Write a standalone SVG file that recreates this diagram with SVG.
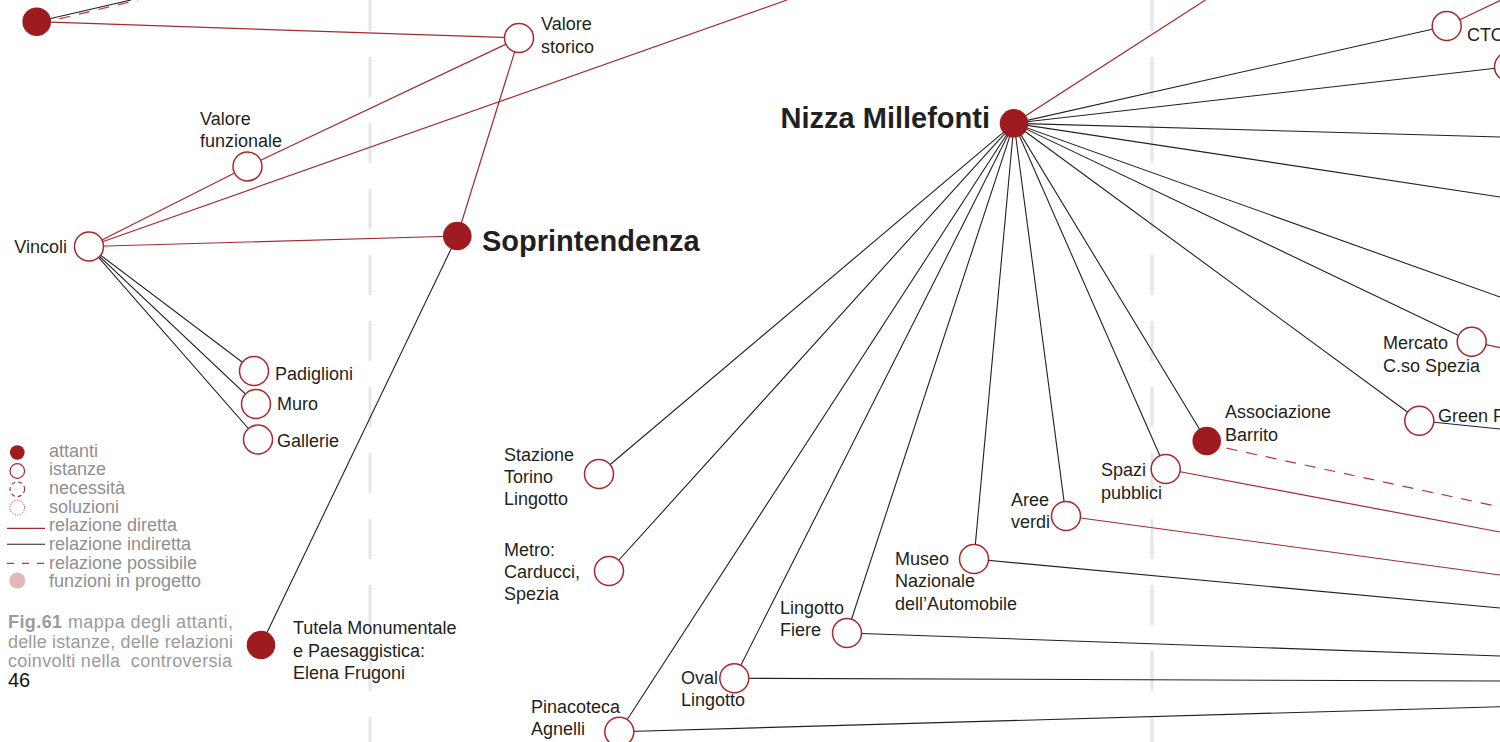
<svg xmlns="http://www.w3.org/2000/svg" width="1500" height="742" viewBox="0 0 1500 742">
<style>
.bg{fill:#ffffff}
.guide{stroke:#e6e6e6;stroke-width:3;stroke-dasharray:40 26;stroke-dashoffset:9;fill:none}
.red{stroke:#a52a2e;stroke-width:1.2;fill:none}
.blk{stroke:#231f20;stroke-width:1.1;fill:none}
.dash{stroke:#b8333a;stroke-width:1.2;fill:none;stroke-dasharray:11 9}
.att{fill:#9e1b20}
.ist{fill:#ffffff;stroke:#a8282d;stroke-width:1.5}
.lbl{font-family:"Liberation Sans",Arial,Helvetica,sans-serif;font-size:18px;fill:#231f20}
.big{font-family:"Liberation Sans",Arial,Helvetica,sans-serif;font-size:29px;font-weight:bold;fill:#231f20}
.leg{font-family:"Liberation Sans",Arial,Helvetica,sans-serif;font-size:18px;fill:#8f8f8f}
.cap{font-family:"Liberation Sans",Arial,Helvetica,sans-serif;font-size:18px;fill:#9b9b9b;white-space:pre}
</style>
<rect class="bg" x="0" y="0" width="1500" height="742"/>
<g id="guides">
<line class="guide" x1="370" y1="0" x2="370" y2="742"/>
<line class="guide" x1="1152" y1="0" x2="1152" y2="742"/>
</g>
<g id="connectors">
<line class="red" x1="36.7" y1="21.7" x2="519" y2="38"/>
<line class="blk" x1="36.7" y1="21.7" x2="131" y2="0"/>
<line class="dash" x1="40" y1="23.5" x2="138" y2="0"/>
<line class="red" x1="247.5" y1="166.5" x2="519" y2="38"/>
<line class="red" x1="89" y1="246.5" x2="247.5" y2="166.5"/>
<line class="red" x1="89" y1="246.5" x2="787" y2="0"/>
<line class="red" x1="89" y1="246.5" x2="457.3" y2="236"/>
<line class="red" x1="519" y1="38" x2="457.3" y2="236"/>
<line class="blk" x1="89" y1="246.5" x2="254" y2="371"/>
<line class="blk" x1="89" y1="246.5" x2="256" y2="404"/>
<line class="blk" x1="89" y1="246.5" x2="258" y2="439.5"/>
<line class="blk" x1="457.3" y1="236" x2="261" y2="645"/>
<line class="red" x1="1014" y1="123.3" x2="1205.5" y2="0"/>
<line class="blk" x1="1014" y1="123.3" x2="1446.7" y2="26"/>
<line class="blk" x1="1014" y1="123.3" x2="1509" y2="66.7"/>
<line class="blk" x1="1014" y1="123.3" x2="1500" y2="137"/>
<line class="blk" x1="1014" y1="123.3" x2="1500" y2="197"/>
<line class="blk" x1="1014" y1="123.3" x2="1500" y2="297"/>
<line class="blk" x1="1014" y1="123.3" x2="1471.7" y2="341.7"/>
<line class="blk" x1="1014" y1="123.3" x2="1419.3" y2="420.7"/>
<line class="blk" x1="1014" y1="123.3" x2="1206.7" y2="441"/>
<line class="blk" x1="1014" y1="123.3" x2="1165.7" y2="469"/>
<line class="blk" x1="1014" y1="123.3" x2="1066" y2="516"/>
<line class="blk" x1="1014" y1="123.3" x2="974" y2="559"/>
<line class="blk" x1="1014" y1="123.3" x2="847" y2="633"/>
<line class="blk" x1="1014" y1="123.3" x2="734.3" y2="678.3"/>
<line class="blk" x1="1014" y1="123.3" x2="619.3" y2="731.7"/>
<line class="blk" x1="1014" y1="123.3" x2="609" y2="571"/>
<line class="blk" x1="1014" y1="123.3" x2="599" y2="474"/>
<line class="red" x1="1446.7" y1="26" x2="1501" y2="0"/>
<line class="red" x1="1471.7" y1="341.7" x2="1500" y2="347.6"/>
<line class="blk" x1="1419.3" y1="420.7" x2="1500" y2="429"/>
<line class="dash" x1="1207" y1="444" x2="1500" y2="507"/>
<line class="red" x1="1165.7" y1="469" x2="1500" y2="532"/>
<line class="red" x1="1066" y1="516" x2="1500" y2="575"/>
<line class="blk" x1="974" y1="559" x2="1500" y2="608"/>
<line class="blk" x1="847" y1="633" x2="1500" y2="656"/>
<line class="blk" x1="734.3" y1="678.3" x2="1500" y2="681"/>
<line class="blk" x1="619.3" y1="731.7" x2="1500" y2="706.7"/>
</g>
<g id="node-top-left"><circle class="att" cx="36.7" cy="21.7" r="14.3"/></g>
<g id="node-valore-storico"><circle class="ist" cx="519" cy="38" r="14.5"/><text class="lbl" x="541" y="30">Valore</text><text class="lbl" x="541" y="53">storico</text></g>
<g id="node-valore-funzionale"><circle class="ist" cx="247.5" cy="166.5" r="14.5"/><text class="lbl" x="200" y="125">Valore</text><text class="lbl" x="200" y="147">funzionale</text></g>
<g id="node-vincoli"><circle class="ist" cx="89" cy="246.5" r="14.5"/><text class="lbl" x="67" y="253" text-anchor="end">Vincoli</text></g>
<g id="node-padiglioni"><circle class="ist" cx="254" cy="371" r="14.5"/><text class="lbl" x="275" y="380">Padiglioni</text></g>
<g id="node-muro"><circle class="ist" cx="256" cy="404" r="14.5"/><text class="lbl" x="277" y="410">Muro</text></g>
<g id="node-gallerie"><circle class="ist" cx="258" cy="439.5" r="14.5"/><text class="lbl" x="277" y="446.5">Gallerie</text></g>
<g id="node-soprintendenza"><circle class="att" cx="457.3" cy="236" r="14.3"/><text class="big" x="482" y="251">Soprintendenza</text></g>
<g id="node-tutela"><circle class="att" cx="261" cy="645" r="14.3"/><text class="lbl" x="293" y="634">Tutela Monumentale</text><text class="lbl" x="293" y="657">e Paesaggistica:</text><text class="lbl" x="293" y="679">Elena Frugoni</text></g>
<g id="node-nizza"><circle class="att" cx="1014" cy="123.3" r="14.3"/><text class="big" x="990" y="128" text-anchor="end">Nizza Millefonti</text></g>
<g id="node-stazione"><circle class="ist" cx="599" cy="474" r="14.5"/><text class="lbl" x="504" y="461">Stazione</text><text class="lbl" x="504" y="483">Torino</text><text class="lbl" x="504" y="505">Lingotto</text></g>
<g id="node-metro"><circle class="ist" cx="609" cy="571" r="14.5"/><text class="lbl" x="504" y="556">Metro:</text><text class="lbl" x="504" y="578">Carducci,</text><text class="lbl" x="504" y="600">Spezia</text></g>
<g id="node-pinacoteca"><circle class="ist" cx="619.3" cy="731.7" r="14.5"/><text class="lbl" x="531" y="713">Pinacoteca</text><text class="lbl" x="531" y="735">Agnelli</text></g>
<g id="node-oval"><circle class="ist" cx="734.3" cy="678.3" r="14.5"/><text class="lbl" x="681" y="684">Oval</text><text class="lbl" x="681" y="706">Lingotto</text></g>
<g id="node-fiere"><circle class="ist" cx="847" cy="633" r="14.5"/><text class="lbl" x="780" y="614">Lingotto</text><text class="lbl" x="780" y="636">Fiere</text></g>
<g id="node-museo"><circle class="ist" cx="974" cy="559" r="14.5"/><text class="lbl" x="895" y="565">Museo</text><text class="lbl" x="895" y="587">Nazionale</text><text class="lbl" x="895" y="610">dell’Automobile</text></g>
<g id="node-aree"><circle class="ist" cx="1066" cy="516" r="14.5"/><text class="lbl" x="1049" y="506" text-anchor="end">Aree</text><text class="lbl" x="1050" y="528" text-anchor="end">verdi</text></g>
<g id="node-spazi"><circle class="ist" cx="1165.7" cy="469" r="14.5"/><text class="lbl" x="1101" y="476">Spazi</text><text class="lbl" x="1101" y="499">pubblici</text></g>
<g id="node-associazione"><circle class="att" cx="1206.7" cy="441" r="14.3"/><text class="lbl" x="1225" y="418">Associazione</text><text class="lbl" x="1225" y="441">Barrito</text></g>
<g id="node-mercato"><circle class="ist" cx="1471.7" cy="341.7" r="14.5"/><text class="lbl" x="1383" y="349">Mercato</text><text class="lbl" x="1383" y="372">C.so Spezia</text></g>
<g id="node-green"><circle class="ist" cx="1419.3" cy="420.7" r="14.5"/><text class="lbl" x="1438" y="422">Green P</text></g>
<g id="node-cto"><circle class="ist" cx="1446.7" cy="26" r="14.5"/><text class="lbl" x="1467" y="41">CTO</text></g>
<g id="node-edge"><circle class="ist" cx="1509" cy="66.7" r="14.5"/></g>
<g id="legend">
<circle class="att" cx="17.3" cy="452.5" r="7.3"/>
<circle class="ist" cx="17.3" cy="471" r="7.3" style="stroke-width:1.2"/>
<circle cx="17.3" cy="489.3" r="7.3" fill="none" stroke="#a8282d" stroke-width="1.1" stroke-dasharray="4 3"/>
<circle cx="17.3" cy="507.7" r="7.3" fill="none" stroke="#a8282d" stroke-width="1" stroke-dasharray="1 1.6"/>
<line class="red" x1="7" y1="528.3" x2="45" y2="528.3"/>
<line class="blk" x1="7" y1="544.3" x2="45" y2="544.3"/>
<line x1="7" y1="563.3" x2="45" y2="563.3" stroke="#c0393f" stroke-width="1.2" stroke-dasharray="7 8"/>
<circle cx="17.3" cy="580.5" r="8" fill="#e3b7b9"/>
<text class="leg" x="49" y="457">attanti</text>
<text class="leg" x="49" y="475">istanze</text>
<text class="leg" x="49" y="493.5">necessità</text>
<text class="leg" x="49" y="512.5">soluzioni</text>
<text class="leg" x="49" y="531">relazione diretta</text>
<text class="leg" x="49" y="550">relazione indiretta</text>
<text class="leg" x="49" y="569">relazione possibile</text>
<text class="leg" x="49" y="587">funzioni in progetto</text>
</g>
<g id="caption">
<text class="cap" x="8" y="627.5" textLength="225" lengthAdjust="spacing"><tspan font-weight="bold">Fig.61</tspan> mappa degli attanti,</text>
<text class="cap" x="8" y="647.5" textLength="225" lengthAdjust="spacing">delle istanze, delle relazioni</text>
<text class="cap" x="8" y="667" textLength="224" lengthAdjust="spacing">coinvolti nella  controversia</text>
<text x="8" y="687" font-family="Liberation Sans, Arial, sans-serif" font-size="20" fill="#111111">46</text>
</g>
</svg>
